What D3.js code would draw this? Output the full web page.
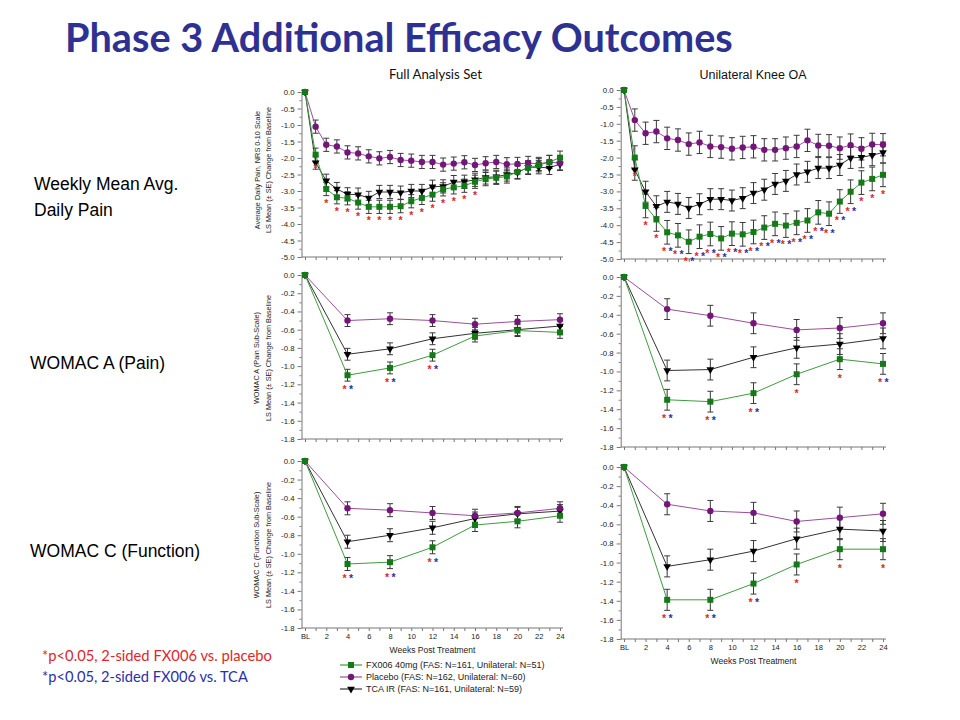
<!DOCTYPE html>
<html><head><meta charset="utf-8">
<script src="https://cdn.jsdelivr.net/npm/d3@7"></script>
<style>body{margin:0;background:#fff} svg{display:block}</style>
</head><body><svg id="c" width="960" height="720"></svg>
<script>
// ---------------- DATA ----------------
const weeksDaily = [0,1,2,3,4,5,6,7,8,9,10,11,12,13,14,15,16,17,18,19,20,21,22,23,24];
const womacWeeks = [0,4,8,12,16,20,24];

const dailyFAS_FX006   = [0,-1.90,-2.94,-3.19,-3.22,-3.35,-3.48,-3.48,-3.48,-3.46,-3.31,-3.21,-3.11,-2.95,-2.89,-2.84,-2.72,-2.64,-2.60,-2.56,-2.42,-2.30,-2.22,-2.12,-1.99];
const dailyFAS_Placebo = [0,-1.05,-1.60,-1.65,-1.83,-1.86,-1.95,-2.01,-1.97,-2.06,-2.08,-2.12,-2.12,-2.20,-2.17,-2.13,-2.21,-2.16,-2.12,-2.19,-2.18,-2.15,-2.18,-2.12,-2.16];
const dailyFAS_TCA     = [0,-2.14,-2.69,-2.94,-3.10,-3.11,-3.21,-3.03,-3.03,-3.05,-3.00,-3.00,-2.87,-2.86,-2.73,-2.72,-2.66,-2.59,-2.57,-2.50,-2.44,-2.28,-2.28,-2.30,-2.18];
const dailyFAS_SE      = [0.20, 0.20, 0.20];   // FX006, Placebo, TCA

const dailyUni_FX006   = [0,-2.00,-3.43,-3.83,-4.21,-4.30,-4.49,-4.34,-4.26,-4.39,-4.25,-4.27,-4.20,-4.07,-3.96,-4.01,-3.93,-3.86,-3.62,-3.66,-3.30,-3.01,-2.74,-2.63,-2.51];
const dailyUni_Placebo = [0,-0.89,-1.28,-1.23,-1.43,-1.48,-1.60,-1.55,-1.67,-1.69,-1.74,-1.70,-1.68,-1.77,-1.77,-1.72,-1.67,-1.49,-1.64,-1.65,-1.72,-1.63,-1.74,-1.61,-1.62];
const dailyUni_TCA     = [0,-2.36,-3.01,-3.44,-3.31,-3.37,-3.49,-3.38,-3.23,-3.23,-3.27,-3.20,-3.05,-2.95,-2.78,-2.69,-2.50,-2.42,-2.31,-2.31,-2.22,-2.01,-1.99,-1.93,-1.85];
const dailyUni_SE      = [0.35, 0.33, 0.31];

const womacA_FAS_FX006   = [0,-1.10,-1.02,-0.88,-0.67,-0.61,-0.63];
const womacA_FAS_Placebo = [0,-0.50,-0.48,-0.50,-0.54,-0.51,-0.49];
const womacA_FAS_TCA     = [0,-0.87,-0.81,-0.70,-0.64,-0.60,-0.56];
const womacA_FAS_SE      = [0.065, 0.065, 0.065];

const womacA_Uni_FX006   = [0,-1.30,-1.32,-1.23,-1.03,-0.87,-0.92];
const womacA_Uni_Placebo = [0,-0.34,-0.41,-0.49,-0.56,-0.54,-0.49];
const womacA_Uni_TCA     = [0,-0.99,-0.98,-0.85,-0.75,-0.71,-0.65];
const womacA_Uni_SE      = [0.11, 0.11, 0.11];

const womacC_FAS_FX006   = [0,-1.11,-1.09,-0.93,-0.69,-0.65,-0.59];
const womacC_FAS_Placebo = [0,-0.51,-0.53,-0.56,-0.59,-0.56,-0.51];
const womacC_FAS_TCA     = [0,-0.87,-0.80,-0.72,-0.62,-0.57,-0.54];
const womacC_FAS_SE      = [0.07, 0.07, 0.07];

const womacC_Uni_FX006   = [0,-1.39,-1.39,-1.22,-1.02,-0.86,-0.86];
const womacC_Uni_Placebo = [0,-0.39,-0.46,-0.48,-0.57,-0.53,-0.49];
const womacC_Uni_TCA     = [0,-1.04,-0.97,-0.88,-0.75,-0.65,-0.67];
const womacC_Uni_SE      = [0.11, 0.11, 0.11];

// weeks with significance (red: vs placebo, blue: vs TCA)
const sigDailyFAS_vsPlacebo = [1,2,3,4,5,6,7,8,9,10,11,12,13,14,15,16];
const sigDailyFAS_vsTCA     = [];
const sigDailyUni_vsPlacebo = [1,2,3,4,5,6,7,8,9,10,11,12,13,14,15,16,17,18,19,20,21,22,23,24];
const sigDailyUni_vsTCA     = [4,5,6,7,8,9,10,11,12,13,14,15,16,17,18,19,20,21];
const sigWomacA_FAS_vsPlacebo = [4,8,12];
const sigWomacA_FAS_vsTCA     = [4,8,12];
const sigWomacA_Uni_vsPlacebo = [4,8,12,16,20,24];
const sigWomacA_Uni_vsTCA     = [4,8,12,24];
const sigWomacC_FAS_vsPlacebo = [4,8,12];
const sigWomacC_FAS_vsTCA     = [4,8,12];
const sigWomacC_Uni_vsPlacebo = [4,8,12,16,20,24];
const sigWomacC_Uni_vsTCA     = [4,8,12];

const yTicksDaily = [0.0,-0.5,-1.0,-1.5,-2.0,-2.5,-3.0,-3.5,-4.0,-4.5,-5.0];
const yTicksWomac = [0.0,-0.2,-0.4,-0.6,-0.8,-1.0,-1.2,-1.4,-1.6,-1.8];
const xTickWeeks  = [0,1,2,3,4,5,6,7,8,9,10,11,12,13,14,15,16,17,18,19,20,21,22,23,24];
const xLabelWeeks = [0,2,4,6,8,10,12,14,16,18,20,22,24];
const xLabelText  = ["BL","2","4","6","8","10","12","14","16","18","20","22","24"];

const seriesNames = ["FX006 40mg (FAS: N=161, Unilateral: N=51)",
                     "Placebo (FAS: N=162, Unilateral: N=60)",
                     "TCA IR (FAS: N=161, Unilateral: N=59)"];

// ---------------- STYLE ----------------
const styles = [
  {line:'#3f9b3f', fill:'#137a17', shape:'square'},
  {line:'#9a4f9a', fill:'#74157a', shape:'circle'},
  {line:'#333333', fill:'#000000', shape:'tri'}
];
const RED = '#e0262a', BLUE = '#2b2fa8';
const FONT = "'Liberation Sans', Arial, sans-serif";

const svg = d3.select('#c');
svg.append('rect').attr('width',960).attr('height',720).attr('fill','#fff');

function marker(g, st, cx, cy) {
  if (st.shape === 'square') {
    g.append('rect').attr('x',cx-3).attr('y',cy-3).attr('width',6).attr('height',6).attr('fill',st.fill);
  } else if (st.shape === 'circle') {
    g.append('circle').attr('cx',cx).attr('cy',cy).attr('r',3.2).attr('fill',st.fill);
  } else {
    g.append('path').attr('d', d3.symbol().type(d3.symbolTriangle).size(26)())
      .attr('transform',`translate(${cx},${cy}) rotate(180)`).attr('fill',st.fill);
  }
}

function drawPanel(p) {
  const x = d3.scaleLinear().domain([0,24]).range([p.xBL, p.x24]);
  const y = d3.scaleLinear().domain([0, p.yTicks[p.yTicks.length-1]]).range([p.yTop, p.yBot]);
  const g = svg.append('g');

  // y axis (major)
  const ya = g.append('g').attr('transform',`translate(${p.axisX},0)`)
    .call(d3.axisLeft(y).tickValues(p.yTicks).tickSize(4).tickSizeOuter(0).tickPadding(3)
      .tickFormat(d => Math.abs(d) < 1e-9 ? '0.0' : d.toFixed(1)));
  // minor ticks
  const minors = d3.pairs(p.yTicks).map(([a,b]) => (a+b)/2);
  g.append('g').attr('transform',`translate(${p.axisX},0)`)
    .call(d3.axisLeft(y).tickValues(minors).tickSize(2).tickFormat(''))
    .select('.domain').remove();
  // x axis
  const xa = g.append('g').attr('transform',`translate(0,${p.yBot})`)
    .call(d3.axisBottom(x).tickValues(xTickWeeks).tickSize(3).tickFormat(''));
  xa.select('.domain').remove();
  g.append('line').attr('x1',p.axisX).attr('x2',p.x24+3).attr('y1',p.yBot).attr('y2',p.yBot)
    .attr('stroke','#777').attr('stroke-width',1);
  if (p.xLabels) {
    const xl = g.append('g').attr('transform',`translate(0,${p.yBot})`)
      .call(d3.axisBottom(x).tickValues(xLabelWeeks).tickSize(0).tickPadding(6)
        .tickFormat((d,i) => xLabelText[i]));
    xl.select('.domain').remove();
    xl.selectAll('text').attr('font-size',7.5).attr('font-family',FONT).attr('fill','#222');
    g.append('text').attr('x',(p.xBL+p.x24)/2).attr('y',p.yBot+25).attr('text-anchor','middle')
      .attr('font-family',FONT).attr('font-size',8.5).attr('fill','#222').text('Weeks Post Treatment');
  }
  g.selectAll('.domain').attr('stroke','#777');
  g.selectAll('.tick line').attr('stroke','#777');
  ya.selectAll('text').attr('font-size',7.8).attr('font-family',FONT).attr('fill','#222');

  // y title
  if (p.yTitle) {
    p.yTitle.forEach((t,i) => {
      g.append('text').attr('transform',`translate(${p.titleX[i]},${p.titleY}) rotate(-90)`)
        .attr('text-anchor','middle').attr('font-family',FONT).attr('font-size',7.3)
        .attr('fill','#222').text(t);
    });
  }

  const series = p.series;
  // error bars
  series.forEach((vals, si) => {
    const se = p.se[si];
    p.weeks.forEach((w,i) => {
      if (w === 0) return;
      const cx = x(w), yt = y(vals[i]+se), yb = y(vals[i]-se);
      g.append('line').attr('x1',cx).attr('x2',cx).attr('y1',yt).attr('y2',yb).attr('stroke','#3a3a3a').attr('stroke-width',1);
      [yt,yb].forEach(yy => g.append('line').attr('x1',cx-3).attr('x2',cx+3).attr('y1',yy).attr('y2',yy)
        .attr('stroke','#3a3a3a').attr('stroke-width',1));
    });
  });
  // lines (draw in order TCA, placebo, FX006 so green on top)
  [2,1,0].forEach(si => {
    const vals = series[si];
    g.append('path').datum(p.weeks.map((w,i)=>[w,vals[i]]))
      .attr('d', d3.line().x(d=>x(d[0])).y(d=>y(d[1])))
      .attr('fill','none').attr('stroke',styles[si].line).attr('stroke-width',1);
  });
  [2,1,0].forEach(si => {
    const vals = series[si];
    p.weeks.forEach((w,i) => marker(g, styles[si], x(w), y(vals[i])));
  });

  // significance stars below FX006 lower error bar
  const fx = series[0], seF = p.se[0];
  const starY = w => { const i = p.weeks.indexOf(w); return y(fx[i]-seF) + p.starOff; };
  p.sigP.forEach(w => {
    const both = p.sigT.includes(w);
    g.append('text').attr('x', x(w) + (both ? -3 : 0)).attr('y', starY(w)+6)
      .attr('text-anchor','middle').attr('font-family',FONT).attr('font-weight',700)
      .attr('font-size',10.5).attr('fill',RED).text('*');
  });
  p.sigT.forEach(w => {
    g.append('text').attr('x', x(w) + 3.5).attr('y', starY(w)+6)
      .attr('text-anchor','middle').attr('font-family',FONT).attr('font-weight',700)
      .attr('font-size',10.5).attr('fill',BLUE).text('*');
  });
}

const L = {axisX:301.5, xBL:305, x24:560};
const R = {axisX:620.7, xBL:624, x24:883};

drawPanel(Object.assign({}, L, {yTop:92, yBot:257, yTicks:yTicksDaily, weeks:weeksDaily,
  series:[dailyFAS_FX006, dailyFAS_Placebo, dailyFAS_TCA], se:dailyFAS_SE,
  sigP:sigDailyFAS_vsPlacebo, sigT:sigDailyFAS_vsTCA, starOff:5,
  yTitle:['Average Daily Pain, NRS 0-10 Scale','LS Mean (\u00B1 SE) Change from Baseline'], titleX:[259.5,271], titleY:170}));
drawPanel(Object.assign({}, R, {yTop:90, yBot:259, yTicks:yTicksDaily, weeks:weeksDaily,
  series:[dailyUni_FX006, dailyUni_Placebo, dailyUni_TCA], se:dailyUni_SE,
  sigP:sigDailyUni_vsPlacebo, sigT:sigDailyUni_vsTCA, starOff:5}));
drawPanel(Object.assign({}, L, {yTop:275, yBot:439, yTicks:yTicksWomac, weeks:womacWeeks,
  series:[womacA_FAS_FX006, womacA_FAS_Placebo, womacA_FAS_TCA], se:womacA_FAS_SE,
  sigP:sigWomacA_FAS_vsPlacebo, sigT:sigWomacA_FAS_vsTCA, starOff:6,
  yTitle:['WOMAC A (Pain Sub-Scale)','LS Mean (\u00B1 SE) Change from Baseline'], titleX:[259,271], titleY:358}));
drawPanel(Object.assign({}, R, {yTop:277, yBot:447, yTicks:yTicksWomac, weeks:womacWeeks,
  series:[womacA_Uni_FX006, womacA_Uni_Placebo, womacA_Uni_TCA], se:womacA_Uni_SE,
  sigP:sigWomacA_Uni_vsPlacebo, sigT:sigWomacA_Uni_vsTCA, starOff:6}));
drawPanel(Object.assign({}, L, {yTop:461, yBot:628, yTicks:yTicksWomac, weeks:womacWeeks,
  series:[womacC_FAS_FX006, womacC_FAS_Placebo, womacC_FAS_TCA], se:womacC_FAS_SE,
  sigP:sigWomacC_FAS_vsPlacebo, sigT:sigWomacC_FAS_vsTCA, starOff:6, xLabels:true,
  yTitle:['WOMAC C (Function Sub-Scale)','LS Mean (\u00B1 SE) Change from Baseline'], titleX:[259,271], titleY:545}));
drawPanel(Object.assign({}, R, {yTop:467, yBot:639, yTicks:yTicksWomac, weeks:womacWeeks,
  series:[womacC_Uni_FX006, womacC_Uni_Placebo, womacC_Uni_TCA], se:womacC_Uni_SE,
  sigP:sigWomacC_Uni_vsPlacebo, sigT:sigWomacC_Uni_vsTCA, starOff:6, xLabels:true}));

// ---------------- TEXT ----------------
function fit(sel, w) {
  const fs = +sel.attr('font-size');
  const len = sel.node().getComputedTextLength();
  if (len > 0) sel.attr('font-size', fs * w / len);
  return sel;
}
fit(svg.append('text').attr('x',65).attr('y',52).attr('font-family','Lato, sans-serif').attr('font-weight',700)
  .attr('font-size',36).attr('fill','#2e3192').text('Phase 3 Additional Efficacy Outcomes'), 668);

fit(svg.append('text').attr('x',389).attr('y',79).attr('font-family','Lato, sans-serif')
  .attr('font-size',12).attr('fill','#111').text('Full Analysis Set'), 93);
svg.append('text').attr('x',753).attr('y',79).attr('text-anchor','middle').attr('font-family',FONT)
  .attr('font-size',12.5).attr('fill','#111').text('Unilateral Knee OA');

const sideFont = 17.5;
svg.append('text').attr('x',34).attr('y',190).attr('font-family',FONT).attr('font-size',sideFont).attr('fill','#000').text('Weekly Mean Avg.');
svg.append('text').attr('x',34).attr('y',216).attr('font-family',FONT).attr('font-size',sideFont).attr('fill','#000').text('Daily Pain');
svg.append('text').attr('x',30).attr('y',369).attr('font-family',FONT).attr('font-size',sideFont).attr('fill','#000').text('WOMAC A (Pain)');
svg.append('text').attr('x',30).attr('y',557).attr('font-family',FONT).attr('font-size',sideFont).attr('fill','#000').text('WOMAC C (Function)');

fit(svg.append('text').attr('x',42).attr('y',661).attr('font-family','Lato, sans-serif').attr('font-size',15)
  .attr('fill',RED).text('*p<0.05, 2-sided FX006 vs. placebo'), 230);
fit(svg.append('text').attr('x',42).attr('y',682).attr('font-family','Lato, sans-serif').attr('font-size',15)
  .attr('fill',BLUE).text('*p<0.05, 2-sided FX006 vs. TCA'), 206);

// legend
const legY = [665, 677, 689];
seriesNames.forEach((name, i) => {
  const lg = svg.append('g');
  lg.append('line').attr('x1',340).attr('x2',362).attr('y1',legY[i]).attr('y2',legY[i])
    .attr('stroke',styles[i].line).attr('stroke-width',1.2);
  marker(lg, styles[i], 351, legY[i]);
  lg.append('text').attr('x',366).attr('y',legY[i]+3.3).attr('font-family',FONT).attr('font-size',9)
    .attr('fill','#222').text(name);
});
</script></body></html>
